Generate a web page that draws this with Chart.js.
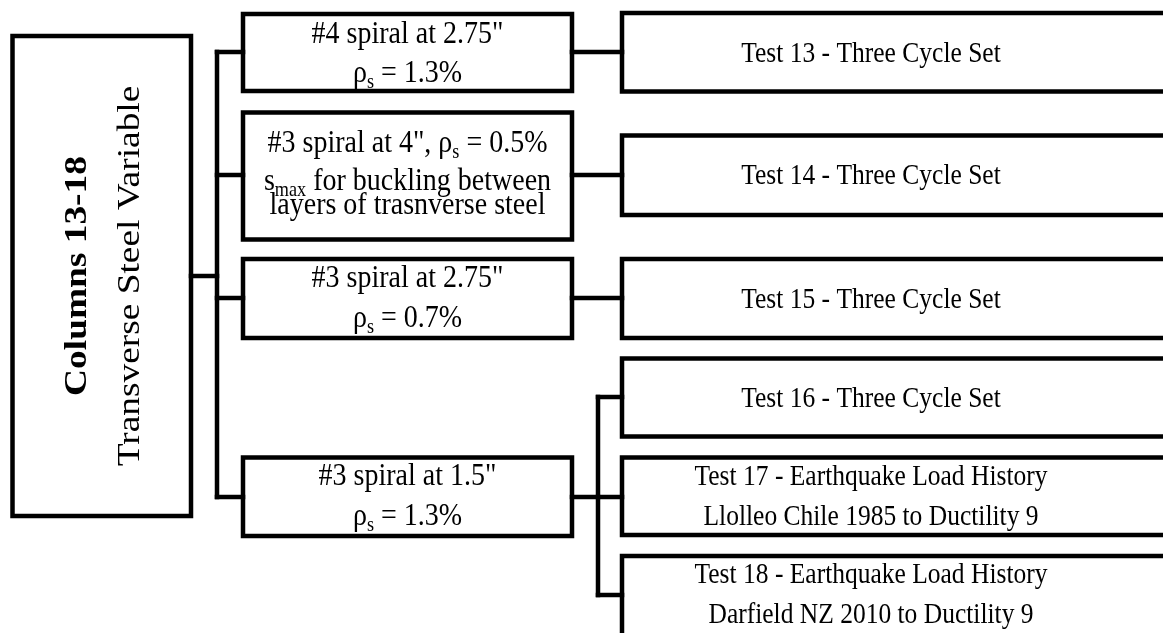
<!DOCTYPE html>
<html>
<head>
<meta charset="utf-8">
<script src="https://cdn.jsdelivr.net/npm/chart.js@4/dist/chart.umd.min.js"></script>
<style>
  html, body { margin: 0; padding: 0; background: #fff; }
  #wrap { width: 1163px; height: 633px; }
</style>
</head>
<body>
<div id="wrap"><canvas id="tree"></canvas></div>
<script>
// ------------------------------------------------------- //
// Tree content (labels) and box extents in axis units
// ------------------------------------------------------ //
var rootLabels = ['Columns 13-18', 'Transverse Steel Variable'];
var rootBox    = [12.5, 191, 36, 516];             // x0, x1, y0, y1
var rootTextX  = [86, 139];                        // baselines of the rotated lines

var specLabels = [
    ['#4 spiral at 2.75"', 'ρ_s = 1.3%'],
    ['#3 spiral at 4", ρ_s = 0.5%', 's_max for buckling between', 'layers of trasnverse steel'],
    ['#3 spiral at 2.75"', 'ρ_s = 0.7%'],
    ['#3 spiral at 1.5"', 'ρ_s = 1.3%']
];
var specTop       = [14, 112.5, 259, 457.5];
var specBottom    = [91, 239.5, 338, 536];
var specBaselines = [[43, 82], [152, 190, 214], [287, 327], [485, 525]];
var specLinkY     = [52, 175, 298, 497];

var testLabels = [
    ['Test 13 - Three Cycle Set'],
    ['Test 14 - Three Cycle Set'],
    ['Test 15 - Three Cycle Set'],
    ['Test 16 - Three Cycle Set'],
    ['Test 17 - Earthquake Load History', 'Llolleo Chile 1985 to Ductility 9'],
    ['Test 18 - Earthquake Load History', 'Darfield NZ 2010 to Ductility 9']
];
var testParent    = [0, 1, 2, 3, 3, 3];
var testTop       = [13, 135.5, 259, 358.5, 457.5, 556];
var testBottom    = [91.5, 215, 338, 436.5, 535, 660];
var testBaselines = [[62], [184], [308], [407], [485, 525], [583, 623]];
var testLinkY     = [52, 175, 298, 397, 497, 595];

// column positions
var trunkX = 217, specLeft = 243, specRight = 572, splitX = 598,
    testLeft = 622, testRight = 1180, specMidX = 407.5, testMidX = 871;

var ink = '#000';
var STRETCH = 1.15;   // the figure is a little taller than wide

// ------------------------------------------------------- //
// Build line datasets (boxes + connectors)
// ------------------------------------------------------ //
function box(x0, x1, y0, y1) {
    return [{x: x0, y: y0}, {x: x1, y: y0}, {x: x1, y: y1}, {x: x0, y: y1}, {x: x0, y: y0}];
}
function seg(x0, y0, x1, y1) {
    return [{x: x0, y: y0}, {x: x1, y: y1}];
}

var rootMidY = (rootBox[2] + rootBox[3]) / 2;
var paths = [];
paths.push(box(rootBox[0], rootBox[1], rootBox[2], rootBox[3]));
paths.push(seg(rootBox[1], rootMidY, trunkX, rootMidY));
paths.push(seg(trunkX, specLinkY[0], trunkX, specLinkY[specLinkY.length - 1]));

specLabels.forEach(function (l, i) {
    paths.push(box(specLeft, specRight, specTop[i], specBottom[i]));
    paths.push(seg(trunkX, specLinkY[i], specLeft, specLinkY[i]));
    var kids = [];
    testParent.forEach(function (p, j) { if (p === i) kids.push(j); });
    if (kids.length === 1) {
        paths.push(seg(specRight, testLinkY[kids[0]], testLeft, testLinkY[kids[0]]));
    } else {
        paths.push(seg(specRight, specLinkY[i], splitX, specLinkY[i]));
        var ys = kids.map(function (k) { return testLinkY[k]; });
        paths.push(seg(splitX, Math.min.apply(null, ys), splitX, Math.max.apply(null, ys)));
        kids.forEach(function (k) {
            paths.push(seg(splitX, testLinkY[k], testLeft, testLinkY[k]));
        });
    }
});
testLabels.forEach(function (l, j) {
    paths.push(box(testLeft, testRight, testTop[j], testBottom[j]));
});

var datasets = paths.map(function (p) {
    return {
        data: p,
        showLine: true,
        borderColor: ink,
        borderWidth: 4.5,
        pointRadius: 0,
        tension: 0,
        fill: false,
        borderJoinStyle: 'miter',
        borderCapStyle: 'square'
    };
});

// ------------------------------------------------------- //
// Text with subscripts (a_b -> a with subscript b)
// ------------------------------------------------------ //
var FAMILY = '"Liberation Serif", "Times New Roman", serif';

function pieces(str) {
    var parts = str.split(/_([a-z]+)/), out = [];
    parts.forEach(function (t, k) { if (t) out.push({t: t, sub: k % 2 === 1}); });
    return out;
}
// draws centred on (0,0) baseline in the current transform
function drawRich(ctx, str, size, weight) {
    var segs = pieces(str), total = 0;
    segs.forEach(function (s) {
        ctx.font = (weight || 'normal') + ' ' + (s.sub ? size * 0.65 : size) + 'px ' + FAMILY;
        s.w = ctx.measureText(s.t).width;
        total += s.w;
    });
    var x = -total / 2;
    segs.forEach(function (s) {
        ctx.font = (weight || 'normal') + ' ' + (s.sub ? size * 0.65 : size) + 'px ' + FAMILY;
        ctx.fillText(s.t, x, s.sub ? size * 0.2 : 0);
        x += s.w;
    });
}

var labelPlugin = {
    id: 'treeLabels',
    afterDatasetsDraw: function (chart) {
        var ctx = chart.ctx, xs = chart.scales.x, ys = chart.scales.y;
        ctx.save();
        ctx.fillStyle = ink;
        ctx.textAlign = 'left';
        ctx.textBaseline = 'alphabetic';

        // rotated root text
        var midY = ys.getPixelForValue(rootMidY);
        rootLabels.forEach(function (t, k) {
            ctx.save();
            ctx.translate(xs.getPixelForValue(rootTextX[k]), midY);
            ctx.rotate(-Math.PI / 2);
            ctx.scale(STRETCH, 1);
            drawRich(ctx, t, 32.5, k === 0 ? 'bold' : 'normal');
            ctx.restore();
        });

        function line(t, cx, by, size) {
            ctx.save();
            ctx.translate(xs.getPixelForValue(cx), ys.getPixelForValue(by));
            ctx.scale(1, STRETCH);
            drawRich(ctx, t, size);
            ctx.restore();
        }
        specLabels.forEach(function (lines, i) {
            lines.forEach(function (t, k) { line(t, specMidX, specBaselines[i][k], 28); });
        });
        testLabels.forEach(function (lines, j) {
            lines.forEach(function (t, k) { line(t, testMidX, testBaselines[j][k], 25.5); });
        });
        ctx.restore();
    }
};

new Chart(document.getElementById('tree'), {
    type: 'scatter',
    data: { datasets: datasets },
    options: {
        responsive: true,
        maintainAspectRatio: false,
        animation: false,
        layout: { padding: 0 },
        scales: {
            x: { type: 'linear', min: 0, max: 1163, display: false },
            y: { type: 'linear', min: 0, max: 633, reverse: true, display: false }
        },
        plugins: {
            legend: { display: false },
            tooltip: { enabled: false }
        }
    },
    plugins: [labelPlugin]
});
</script>
</body>
</html>
